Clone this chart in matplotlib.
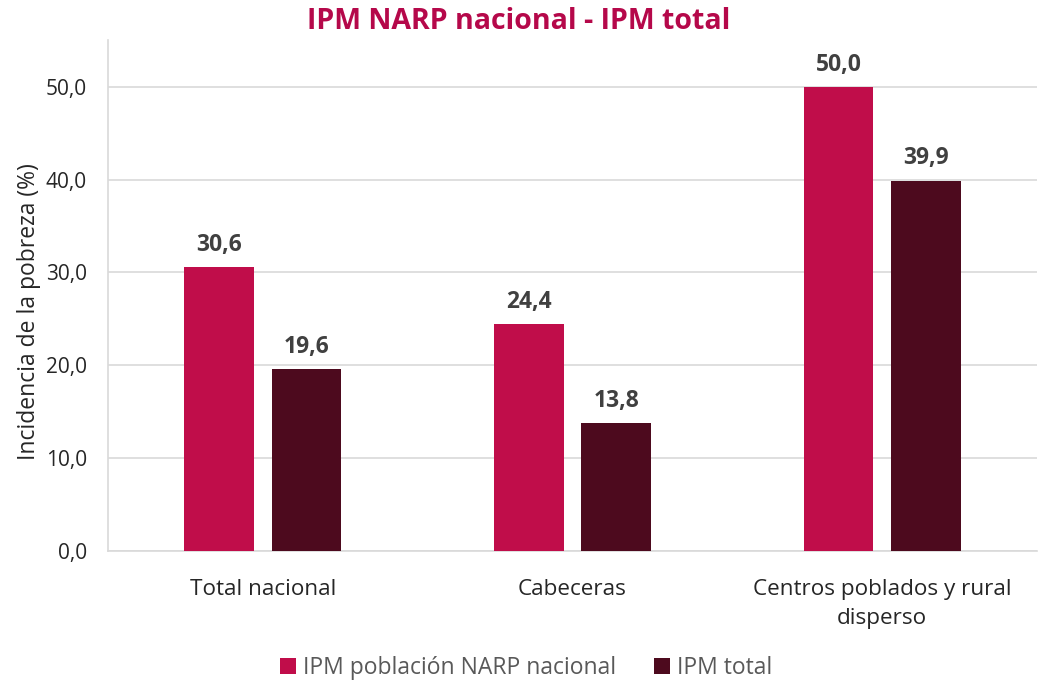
import matplotlib.pyplot as plt
import numpy as np

categorias = ["Total nacional", "Cabeceras", "Centros poblados y rural\ndisperso"]
ipm_narp = [30.6, 24.4, 50.0]
ipm_total = [19.6, 13.8, 39.9]
series = ["IPM población NARP nacional", "IPM total"]

C_NARP = "#C00D4A"
C_TOTAL = "#4D0A1E"
GRIS = "#D9D9D9"
TEXTO = "#404040"

plt.rcParams["font.family"] = ["Open Sans", "DejaVu Sans"]

fig = plt.figure(figsize=(10.38, 6.86), dpi=100)
ax = fig.add_axes([0.104, 0.197, 0.895, 0.745])

x = np.arange(len(categorias))
w = 0.225
off = 0.141
b1 = ax.bar(x - off, ipm_narp, w, color=C_NARP, label=series[0], zorder=3)
b2 = ax.bar(x + off, ipm_total, w, color=C_TOTAL, label=series[1], zorder=3)

# etiquetas de valor sobre cada barra
for bars in (b1, b2):
    for r in bars:
        v = r.get_height()
        ax.text(r.get_x() + r.get_width() / 2, v + 1.1, f"{v:.1f}".replace(".", ","),
                ha="center", va="bottom", fontsize=16.5, fontweight="bold", color=TEXTO)

ax.set_xlim(-0.5, 2.5)
ax.set_ylim(0, 55.06)
ax.set_yticks(np.arange(0, 51, 10))
ax.set_yticklabels([f"{t:.1f}".replace(".", ",") for t in np.arange(0, 51, 10)],
                   fontsize=15, color="#262626")
ax.set_xticks(x)
ax.set_xticklabels(categorias, fontsize=16.2, color="#262626", linespacing=1.5)
ax.tick_params(length=0)
ax.tick_params(axis="x", pad=20)
ax.tick_params(axis="y", pad=15)
ax.grid(axis="y", color=GRIS, lw=1.2, zorder=0)
for s in ("top", "right"):
    ax.spines[s].set_visible(False)
for s in ("left", "bottom"):
    ax.spines[s].set_color(GRIS)
    ax.spines[s].set_linewidth(1.2)

ax.set_ylabel("Incidencia de la pobreza (%)", fontsize=16.5, color="#262626")
ax.yaxis.set_label_coords(-0.072, 0.468)
fig.suptitle("IPM NARP nacional - IPM total", y=0.99, fontsize=20.5,
             fontweight="bold", color="#B5084A")

fig.legend(loc="lower center", bbox_to_anchor=(0.507, -0.022), ncol=2, frameon=False,
           fontsize=16.5, handlelength=0.7, handleheight=0.7, columnspacing=1.65,
           handletextpad=0.3, labelcolor="#595959")

fig.savefig("out.png", dpi=100)
